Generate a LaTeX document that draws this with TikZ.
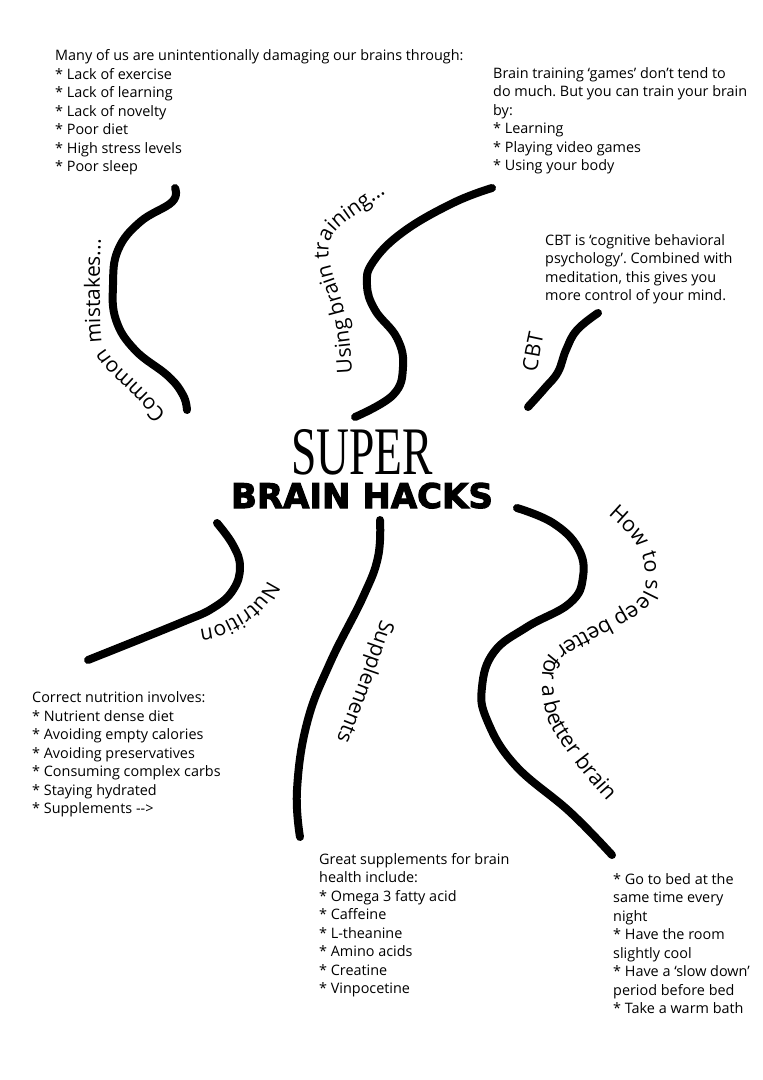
\documentclass[tikz,border=0pt]{standalone}
\usepackage{fontspec}
\setmainfont{Open Sans}
\newfontfamily\superfont{Liberation Serif}
\newfontfamily\hacksfont[FakeBold=3]{DejaVu Sans Bold}
\usetikzlibrary{decorations.text}
\newcommand{\curvefont}{\fontsize{21}{25}\selectfont}
\newcommand{\sleepfont}{\fontsize{21.5}{26}\selectfont}
\frenchspacing

\begin{document}
\begin{tikzpicture}[x=1pt, y=-1pt,
  branch/.style={line width=8pt, line cap=round},
  note/.style={anchor=north west, align=left, inner sep=0pt,
               font=\fontsize{14.4}{18.5}\selectfont},
  bendlabel/.style={decorate, decoration={text along path, text align=left,
               text={|\curvefont|#1}}},
  sleeplabel/.style={decorate, decoration={text along path, text align=left,
               text={|\sleepfont|#1}}}
]
\useasboundingbox (0,0) rectangle (763,1080);

% title
\node[font=\superfont\fontsize{68}{68}\selectfont, xscale=0.67, anchor=base] (super) at (362,474) {SUPER};
\node[font=\hacksfont\fontsize{34}{34}\selectfont, anchor=base] (hacks) at (362,508) {BRAIN HACKS};

% branches
\draw[branch] plot[smooth, tension=0.7] coordinates {(175,188) (172,202) (140,222) (118,250) (113,285) (116,320) (135,350) (168,376) (183,395) (187,410)};
\draw[branch] plot[smooth, tension=0.7] coordinates {(492,188) (453,203) (403,232) (373,262) (367,285) (375,310) (397,338) (403,367) (393,395) (355,417)};
\draw[branch] plot[smooth, tension=0.7] coordinates {(598,313) (577,330) (566,350) (558,372) (545,388) (528,407)};
\draw[branch] plot[smooth, tension=0.7] coordinates {(217,523) (233,545) (240,567) (233,590) (213,608) (180,623) (88,660)};
\draw[branch] plot[smooth, tension=0.7] coordinates {(380,520) (378,557) (363,597) (330,663) (307,723) (297,790) (300,837)};
\draw[branch] plot[smooth, tension=0.7] coordinates {(517,508) (553,523) (578,548) (583,577) (570,603) (527,627) (494,652) (482,687) (487,720) (515,765) (570,812) (612,855)};

% labels along the branches
\path[bendlabel={Common mistakes...}] plot[smooth] coordinates {(166,414) (150,396) (134,380) (118,365) (106,350) (101,335) (100,300) (100,265) (101,240) (104,222) (108,200) (112,185)};
\path[bendlabel={Using brain training...}] plot[smooth] coordinates {(352,373) (350,345) (346,318) (340,295) (333,275) (329,258) (329,244) (334,233) (344,223) (358,213) (375,201) (392,189) (410,176) (430,162)};
\path[bendlabel={CBT}] plot[smooth] coordinates {(537,372) (541,348) (546,324) (550,300)};
\path[bendlabel={Nutrition}] plot[smooth] coordinates {(268,580) (258,597) (245,610) (228,620) (212,627) (195,630) (180,632) (165,634)};
\path[bendlabel={Supplements}] plot[smooth] coordinates {(381,619) (358,685) (334,748) (328,775)};
\path[sleeplabel={How to sleep better for a better brain}] plot[smooth] coordinates {(608,515) (628,534) (642,555) (645,575) (645,588) (637,601) (620,612) (598,624) (575,636) (556,648) (546,658) (542,675) (543,700) (550,725) (568,753) (592,784) (620,815) (645,840) (660,855)};

% notes
\node[note] (mistakes) at (55,49.5) {Many of us are unintentionally damaging our brains through:\\
  * Lack of exercise\\ * Lack of learning\\ * Lack of novelty\\ * Poor diet\\
  * High stress levels\\ * Poor sleep};
\node[note] (training) at (493,67) {Brain training ‘games’ don’t tend to\\
  do much. But you can train your brain\\ by:\\ * Learning\\ * Playing video games\\
  * Using your body};
\node[note] (cbt) at (545,234) {CBT is ‘cognitive behavioral\\ psychology’. Combined with\\
  meditation, this gives you\\ more control of your mind.};
\node[note] (nutrition) at (32,691.5) {Correct nutrition involves:\\ * Nutrient dense diet\\
  * Avoiding empty calories\\ * Avoiding preservatives\\ * Consuming complex carbs\\
  * Staying hydrated\\ * Supplements -{}->};
\node[note] (supplements) at (319,853) {Great supplements for brain\\ health include:\\
  * Omega 3 fatty acid\\ * Caffeine\\ * L-theanine\\ * Amino acids\\ * Creatine\\
  * Vinpocetine};
\node[note] (sleep) at (613,873) {* Go to bed at the\\ same time every\\ night\\
  * Have the room\\ slightly cool\\ * Have a ‘slow down’\\ period before bed\\
  * Take a warm bath};

\end{tikzpicture}
\end{document}
